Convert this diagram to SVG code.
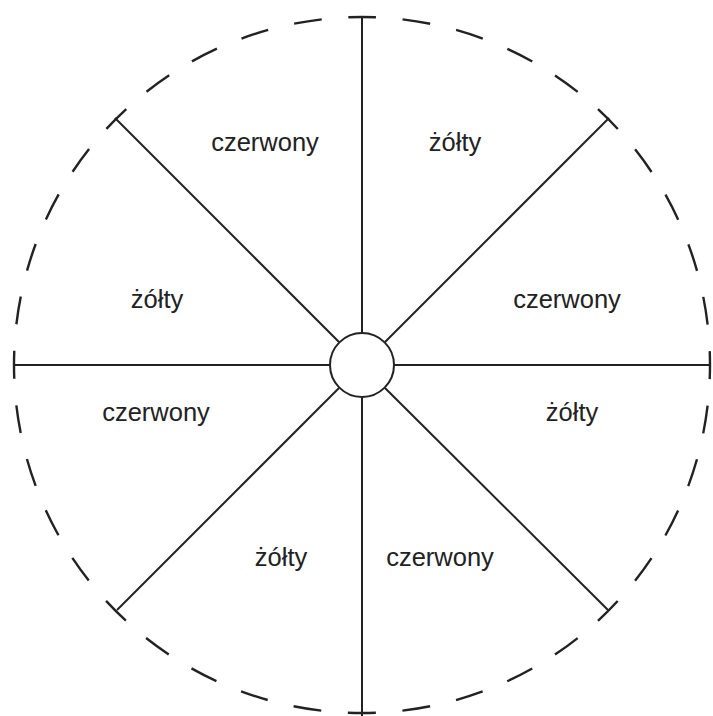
<svg xmlns="http://www.w3.org/2000/svg" width="713" height="716" viewBox="0 0 713 716">
<style>
.ln{stroke:#222;stroke-width:2;fill:none}
.dash{stroke:#222;stroke-width:2.4;fill:none;stroke-dasharray:28 26.66}
.lbl{font-family:"Liberation Sans",Arial,sans-serif;font-size:25.5px;fill:#222;text-anchor:middle}
</style>
<rect width="713" height="716" fill="#fff"/>
<g id="outer-circle">
<path class="dash" d="M362,17 A348,348 0 1,1 361.99,17" stroke-dashoffset="14"/>
</g>
<g id="connectors">
<line class="ln" x1="362" y1="17" x2="362" y2="333"/>
<line class="ln" x1="362" y1="397" x2="362" y2="716"/>
<line class="ln" x1="13" y1="365" x2="330" y2="365"/>
<line class="ln" x1="394" y1="365" x2="711" y2="365"/>
<line class="ln" x1="115" y1="118" x2="339" y2="342"/>
<line class="ln" x1="609" y1="118" x2="385" y2="342"/>
<line class="ln" x1="117" y1="610" x2="339" y2="388"/>
<line class="ln" x1="608" y1="610" x2="385" y2="388"/>
</g>
<g id="hub">
<circle class="ln" cx="362" cy="365" r="32" fill="#fff"/>
</g>
<g id="labels">
<text class="lbl" x="265" y="151">czerwony</text>
<text class="lbl" x="455" y="151">żółty</text>
<text class="lbl" x="157" y="308">żółty</text>
<text class="lbl" x="567" y="308">czerwony</text>
<text class="lbl" x="156" y="421">czerwony</text>
<text class="lbl" x="572" y="421">żółty</text>
<text class="lbl" x="281" y="566">żółty</text>
<text class="lbl" x="440" y="566">czerwony</text>
</g>
</svg>
